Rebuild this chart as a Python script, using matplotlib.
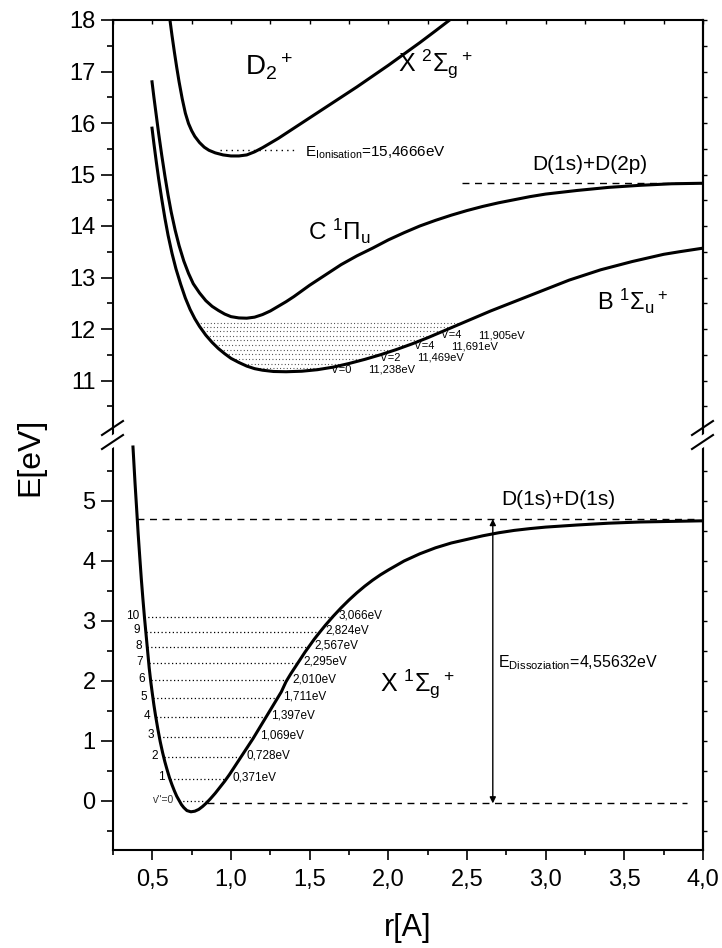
import numpy as np
import matplotlib
matplotlib.use("Agg")
import matplotlib.pyplot as plt
from matplotlib.lines import Line2D
from matplotlib.patches import Polygon

plt.rcParams['font.family'] = ['Liberation Sans', 'DejaVu Sans']
plt.rcParams['mathtext.fontset'] = 'custom'
plt.rcParams['mathtext.rm'] = 'Liberation Sans'
plt.rcParams['mathtext.it'] = 'Liberation Sans:italic'
plt.rcParams['mathtext.bf'] = 'Liberation Sans:bold'
plt.rcParams['mathtext.default'] = 'regular'

# ---------------- potential curves (r in Angstrom, E in eV) ----------------
# ground state X 1Sigma_g+
r_X = [0.377, 0.39, 0.40, 0.41, 0.42, 0.43, 0.44, 0.45, 0.46, 0.47, 0.48, 0.49,
       0.50, 0.51, 0.52, 0.535, 0.55, 0.565, 0.58, 0.595, 0.61, 0.625, 0.64, 0.655,
       0.67, 0.685, 0.70, 0.72, 0.745, 0.77, 0.795, 0.82, 0.845, 0.87, 0.90, 0.93,
       0.96, 0.99, 1.02, 1.05, 1.08, 1.11, 1.14, 1.17, 1.20, 1.23, 1.26, 1.29,
       1.32, 1.35, 1.38, 1.41, 1.44, 1.47, 1.50, 1.53, 1.56, 1.60, 1.65, 1.70,
       1.75, 1.80, 1.85, 1.90, 1.95, 2.00, 2.10, 2.20, 2.30, 2.40, 2.50, 2.60,
       2.70, 2.80, 2.90, 3.00, 3.20, 3.40, 3.60, 3.80, 4.00]
E_X = [5.90, 5.30, 4.88, 4.45, 4.07, 3.70, 3.37, 3.06, 2.78, 2.50, 2.22, 1.99,
       1.79, 1.60, 1.43, 1.20, 0.99, 0.81, 0.65, 0.51, 0.38, 0.27, 0.17, 0.08,
       0.01, -0.06, -0.11, -0.16, -0.18, -0.17, -0.14, -0.09, -0.03, 0.04, 0.13, 0.23,
       0.33, 0.44, 0.56, 0.68, 0.80, 0.92, 1.04, 1.17, 1.30, 1.43, 1.56, 1.69,
       1.82, 1.99, 2.12, 2.24, 2.36, 2.48, 2.59, 2.70, 2.80, 2.93, 3.08, 3.22,
       3.35, 3.47, 3.58, 3.68, 3.77, 3.85, 4.00, 4.12, 4.22, 4.30, 4.36, 4.42,
       4.47, 4.51, 4.54, 4.565, 4.60, 4.63, 4.65, 4.66, 4.67]

# B 1Sigma_u+
r_B = [0.498, 0.51, 0.525, 0.54, 0.56, 0.58, 0.60, 0.625, 0.65, 0.68, 0.71, 0.74,
       0.77, 0.80, 0.84, 0.88, 0.92, 0.96, 1.00, 1.05, 1.10, 1.15, 1.20, 1.27,
       1.35, 1.45, 1.55, 1.65, 1.75, 1.85, 1.95, 2.05, 2.15, 2.25, 2.35, 2.45,
       2.55, 2.65, 2.75, 2.85, 2.95, 3.05, 3.15, 3.25, 3.35, 3.45, 3.55, 3.65,
       3.75, 3.85, 4.00]
E_B = [15.90, 15.60, 15.25, 14.92, 14.52, 14.15, 13.82, 13.47, 13.17, 12.87, 12.60, 12.38,
       12.20, 12.05, 11.88, 11.74, 11.62, 11.52, 11.43, 11.35, 11.28, 11.23, 11.20, 11.175,
       11.17, 11.18, 11.21, 11.26, 11.33, 11.41, 11.50, 11.60, 11.71, 11.83, 11.96, 12.09,
       12.22, 12.35, 12.47, 12.59, 12.71, 12.83, 12.95, 13.05, 13.15, 13.23, 13.31, 13.38,
       13.45, 13.50, 13.57]

# C 1Pi_u
r_C = [0.498, 0.51, 0.525, 0.54, 0.56, 0.58, 0.60, 0.62, 0.645, 0.67, 0.70, 0.73,
       0.76, 0.80, 0.84, 0.88, 0.92, 0.96, 1.00, 1.05, 1.10, 1.15, 1.20, 1.25,
       1.30, 1.35, 1.40, 1.45, 1.50, 1.55, 1.60, 1.70, 1.80, 1.90, 2.00, 2.10,
       2.20, 2.30, 2.40, 2.50, 2.60, 2.70, 2.80, 2.90, 3.00, 3.20, 3.40, 3.60,
       3.80, 4.00]
E_C = [16.80, 16.50, 16.15, 15.80, 15.37, 14.97, 14.60, 14.27, 13.92, 13.62, 13.32, 13.08,
       12.88, 12.70, 12.55, 12.44, 12.36, 12.29, 12.24, 12.215, 12.21, 12.23, 12.28, 12.35,
       12.44, 12.53, 12.63, 12.74, 12.85, 12.95, 13.05, 13.25, 13.42, 13.57, 13.73, 13.87,
       14.00, 14.11, 14.21, 14.30, 14.38, 14.45, 14.51, 14.57, 14.62, 14.69, 14.75, 14.79,
       14.82, 14.83]

# D2+ X 2Sigma_g+
r_ion = [0.612, 0.625, 0.64, 0.655, 0.67, 0.69, 0.71, 0.73, 0.75, 0.77, 0.80, 0.83,
         0.86, 0.90, 0.95, 1.00, 1.05, 1.10, 1.15, 1.20, 1.25, 1.30, 1.35, 1.40,
         1.45, 1.50, 1.60, 1.70, 1.80, 1.90, 2.00, 2.10, 2.20, 2.30, 2.39]
E_ion = [18.00, 17.70, 17.38, 17.08, 16.80, 16.47, 16.19, 15.99, 15.85, 15.74, 15.62, 15.53,
         15.47, 15.42, 15.38, 15.36, 15.36, 15.38, 15.44, 15.52, 15.61, 15.70, 15.80, 15.90,
         16.00, 16.10, 16.30, 16.50, 16.70, 16.91, 17.12, 17.34, 17.56, 17.79, 18.00]

# vibrational levels of the ground state
vib_X_num = ["v''=0", "1", "2", "3", "4", "5", "6", "7", "8", "9", "10"]
vib_X_E = [0.0, 0.371, 0.728, 1.069, 1.397, 1.711, 2.010, 2.295, 2.567, 2.824, 3.066]
vib_X_txt = ["", "0,371eV", "0,728eV", "1,069eV", "1,397eV", "1,711eV", "2,010eV",
             "2,295eV", "2,567eV", "2,824eV", "3,066eV"]

# labelled vibrational levels of the B state
vib_B_num = ["v'=0", "v'=2", "v'=4", "v'=4"]
vib_B_E = [11.238, 11.469, 11.691, 11.905]
vib_B_txt = ["11,238eV", "11,469eV", "11,691eV", "11,905eV"]
# dotted rows filling the B-state well
B_rows = [11.238, 11.33, 11.42, 11.51, 11.60, 11.69, 11.78, 11.87, 11.96, 12.04, 12.12]

E_ionisation = 15.4666
E_dissoc = 4.55632
E_lim_2p = 14.83
E_lim_1s = 4.70
r_arrow = 2.664

x_ticks = [0.5, 1.0, 1.5, 2.0, 2.5, 3.0, 3.5, 4.0]
x_ticklabels = ["0,5", "1,0", "1,5", "2,0", "2,5", "3,0", "3,5", "4,0"]
y_top_ticks = [11, 12, 13, 14, 15, 16, 17, 18]
y_bot_ticks = [0, 1, 2, 3, 4, 5]

# ---------------- figure layout ----------------
W, H = 722, 948
fig = plt.figure(figsize=(W / 100, H / 100), dpi=100)
xl, xr = 113 / W, 703 / W
yt, ym, yb = 1 - 20 / H, 1 - 435 / H, 1 - 850 / H
ax_top = fig.add_axes([xl, ym, xr - xl, yt - ym])
ax_bot = fig.add_axes([xl, yb, xr - xl, ym - yb])

LW_CURVE = 2.2
TICK_FS = 17


def style_axis(ax, ylim, major, minor, bottom):
    ax.set_xlim(0.25, 4.0)
    ax.set_ylim(*ylim)
    ax.set_yticks(major)
    ax.set_yticks(minor, minor=True)
    ax.set_yticklabels([str(v) for v in major])
    ax.set_xticks(x_ticks)
    ax.set_xticks(np.arange(0.25, 4.01, 0.25), minor=True)
    for s in ax.spines.values():
        s.set_linewidth(1.5)
    ax.tick_params(axis='y', which='major', direction='out', length=8.5, width=1.2,
                   labelsize=TICK_FS, pad=4, right=False)
    ax.tick_params(axis='y', which='minor', direction='out', length=4.5, width=1.2, right=False)
    sec = ax.secondary_yaxis('right')
    sec.set_yticks(sorted(list(major) + list(minor)))
    sec.tick_params(direction='out', length=3, width=1.0, labelright=False)
    sec.spines['right'].set_linewidth(1.5)
    if bottom:
        ax.spines['top'].set_visible(False)
        ax.set_xticklabels(x_ticklabels)
        ax.tick_params(axis='x', which='major', direction='out', length=7.5, width=1.2,
                       labelsize=TICK_FS, pad=6, top=False)
        ax.tick_params(axis='x', which='minor', direction='out', length=3.8, width=1.2, top=False)
    else:
        ax.spines['bottom'].set_visible(False)
        ax.tick_params(axis='x', which='both', bottom=False, labelbottom=False,
                       top=True, direction='in', length=3, width=1.0)


style_axis(ax_top, (18 - 415 / 51.5, 18), y_top_ticks,
           [10.5, 11.5, 12.5, 13.5, 14.5, 15.5, 16.5, 17.5], bottom=False)
style_axis(ax_bot, (-0.8167, 6.1), y_bot_ticks,
           [-0.5, 0.5, 1.5, 2.5, 3.5, 4.5, 5.5], bottom=True)

# ---------------- top panel ----------------
for r, e in ((r_ion, E_ion), (r_C, E_C), (r_B, E_B)):
    ax_top.plot(r, e, color='black', lw=LW_CURVE, solid_joinstyle='round', zorder=3)

# dotted rows inside the B well
iB = int(np.argmin(E_B))
rB_left, eB_left = np.array(r_B[:iB + 1])[::-1], np.array(E_B[:iB + 1])[::-1]
rB_right, eB_right = np.array(r_B[iB:]), np.array(E_B[iB:])
for e in B_rows:
    a = np.interp(e, eB_left, rB_left)
    b = np.interp(e, eB_right, rB_right)
    ax_top.plot([a, b], [e, e], color='#333333', lw=0.8, ls=(0, (0.8, 2.2)), zorder=2)

for num, e, txt in zip(vib_B_num, vib_B_E, vib_B_txt):
    b = np.interp(e, eB_right, rB_right)
    ax_top.annotate(num, (b, e), xytext=(4, -1), textcoords='offset points',
                    ha='left', va='center', fontsize=8)
    ax_top.annotate(txt, (b, e), xytext=(30, -1), textcoords='offset points',
                    ha='left', va='center', fontsize=8)

# ionisation threshold
ax_top.plot([0.93, 1.42], [E_ionisation, E_ionisation], color='black', lw=1.0,
            ls=(0, (1, 3)), zorder=2)
ax_top.text(1.47, E_ionisation - 0.12,
            r'E$_{\mathregular{Ionisation}}$=' + f'{E_ionisation:.4f}'.replace('.', ',') + 'eV',
            fontsize=11, ha='left', va='baseline')

# D(1s)+D(2p) limit
ax_top.plot([2.47, 4.0], [E_lim_2p, E_lim_2p], color='black', lw=1.0, ls=(0, (5, 4)))
ax_top.text(2.912, 15.09, 'D(1s)+D(2p)', fontsize=15, ha='left', va='baseline')

ax_top.text(1.089, 16.93, r'D$_2{}^+$', fontsize=20, ha='left', va='baseline')
ax_top.text(2.06, 16.99, r'X $^2$Σ$_g{}^+$', fontsize=18, ha='left', va='baseline')
ax_top.text(1.49, 13.72, r'C $^1$Π$_u$', fontsize=17.5, ha='left', va='baseline')
ax_top.text(3.325, 12.37, r'B $^1$Σ$_u{}^+$', fontsize=17, ha='left', va='baseline')

# ---------------- bottom panel ----------------
ax_bot.plot(r_X, E_X, color='black', lw=LW_CURVE, solid_joinstyle='round', zorder=3)
iX = int(np.argmin(E_X))
rX_left, eX_left = np.array(r_X[:iX + 1])[::-1], np.array(E_X[:iX + 1])[::-1]
rX_right, eX_right = np.array(r_X[iX:]), np.array(E_X[iX:])
for num, e, txt in zip(vib_X_num, vib_X_E, vib_X_txt):
    a = np.interp(e, eX_left, rX_left)
    b = np.interp(e, eX_right, rX_right)
    ax_bot.plot([a, b], [e, e], color='black', lw=0.9, ls=(0, (1, 2)), zorder=2)
    ax_bot.annotate(num, (a, e), xytext=(-4, 1), textcoords='offset points',
                    ha='right', va='center', fontsize=8.5 if num != "v''=0" else 7.5,
                    color='black' if num != "v''=0" else '#333333')
    if txt:
        ax_bot.annotate(txt, (b, e), xytext=(4, 1), textcoords='offset points',
                        ha='left', va='center', fontsize=8.5)

# dissociation limit and zero line
r_lim_left = np.interp(E_lim_1s, eX_left, rX_left)
ax_bot.plot([r_lim_left, 3.96], [E_lim_1s, E_lim_1s], color='black', lw=1.0, ls=(0, (5, 4)))
ax_bot.plot([0.85, 3.9], [-0.04, -0.04], color='black', lw=1.0, ls=(0, (5, 4)))
ax_bot.text(2.72, 4.93, 'D(1s)+D(1s)', fontsize=15, ha='left', va='baseline')

ax_bot.annotate('', xy=(r_arrow, -0.04), xytext=(r_arrow, E_lim_1s),
                arrowprops=dict(arrowstyle='<|-|>', color='black', lw=1.0,
                                mutation_scale=9, shrinkA=0, shrinkB=0))
ax_bot.text(2.70, 2.22,
            r'E$_{\mathregular{Dissoziation}}$=' + f'{E_dissoc:.5f}'.replace('.', ',') + 'eV',
            fontsize=11.5, ha='left', va='baseline')
ax_bot.text(1.946, 1.82, r'X $^1$Σ$_g{}^+$', fontsize=18, ha='left', va='baseline')

# ---------------- axis break marks ----------------
def break_mark(xpix):
    x0, x1 = (xpix - 11) / W, (xpix + 10) / W
    up = [(x0, 1 - 442 / H), (x1, 1 - 428 / H)]
    lo = [(x0, 1 - 456 / H), (x1, 1 - 442 / H)]
    gap = Polygon([up[0], up[1], (x1, 1 - 441 / H), (x0, 1 - 455 / H)],
                  closed=True, transform=fig.transFigure, facecolor='white',
                  edgecolor='none', zorder=10)
    fig.add_artist(gap)
    for seg in (up, lo):
        fig.add_artist(Line2D([seg[0][0], seg[1][0]], [seg[0][1] + 7 / H, seg[1][1] + 7 / H],
                              transform=fig.transFigure, color='black', lw=1.5, zorder=11))


break_mark(113)
break_mark(703)

fig.text(30 / W, 1 - 457 / H, 'E[eV]', rotation=90, fontsize=23, ha='center', va='center')
fig.text(408 / W, 1 - 928 / H, 'r[A]', fontsize=22, ha='center', va='center')

fig.savefig('out.png', dpi=100)
